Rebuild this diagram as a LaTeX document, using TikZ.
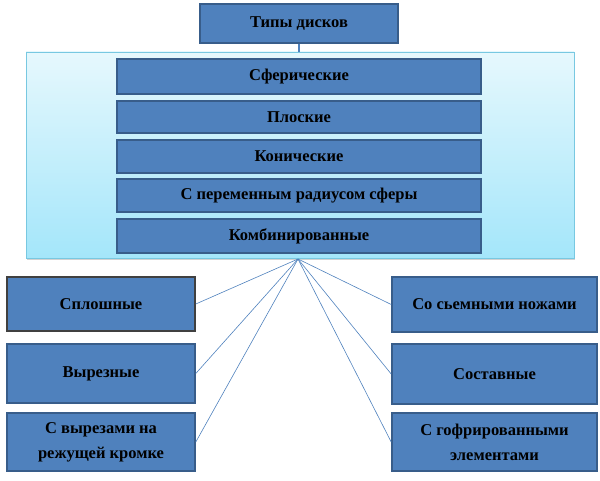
\documentclass[tikz,border=0pt]{standalone}
\usepackage{fontspec}
\setmainfont{Liberation Serif}
\usetikzlibrary{shadows}
\definecolor{diskblue}{RGB}{79,129,189}
\definecolor{diskedge}{RGB}{56,93,138}
\definecolor{paneltop}{RGB}{230,248,253}
\definecolor{panelbot}{RGB}{164,230,250}
\definecolor{paneledge}{RGB}{120,200,225}

\begin{document}
\begin{tikzpicture}[x=1pt,y=-1pt,thick,
    kind/.style={rectangle,draw=diskedge,line width=1.6pt,fill=diskblue,inner sep=0pt,
        font=\fontsize{16.5}{25}\selectfont\bfseries,align=center},
    panel/.style={rectangle,draw=paneledge,line width=0.6pt,top color=paneltop,bottom color=panelbot,
        inner sep=0pt,drop shadow={shadow xshift=1pt,shadow yshift=-2.5pt,fill=gray!70}},
    fan/.style={draw=diskblue,line width=0.6pt}]

            \useasboundingbox (0,0) rectangle (600,481);

            \node[kind, minimum width=198, minimum height=39] (top) at (299,23.5) {Типы дисков};
            \node[panel, minimum width=548, minimum height=206] (panel) at (300,155) {};

            \node[kind, minimum width=364, minimum height=35] (sfer) at (299,76.5) {Сферические};
            \node[kind, minimum width=364, minimum height=32] (plos) at (299,117) {Плоские};
            \node[kind, minimum width=364, minimum height=33] (kon) at (299,156.5) {Конические};
            \node[kind, minimum width=364, minimum height=33] (perem) at (299,195.5) {С переменным радиусом сферы};
            \node[kind, minimum width=364, minimum height=34] (komb) at (299,236) {Комбинированные};

            \node[kind, draw=black!75, minimum width=188, minimum height=54] (splosh) at (101,304) {Сплошные};
            \node[kind, minimum width=188, minimum height=59] (vyrez) at (101,373.5) {Вырезные};
            \node[kind, minimum width=188, minimum height=58] (kromka) at (101,442) {С вырезами на\\режущей кромке};

            \node[kind, minimum width=205, minimum height=55] (nozhi) at (494.5,304.5) {Со сьемными ножами};
            \node[kind, minimum width=205, minimum height=60] (sostav) at (494.5,374) {Составные};
            \node[kind, minimum width=205, minimum height=58] (gofr) at (494.5,442) {С гофрированными\\элементами};

            \coordinate (hub) at (298,259);

            \draw[draw=diskblue, line width=2pt] (top.south) -- (top.south |- panel.north);
            \draw[fan] (hub) -- (splosh.east);
            \draw[fan] (hub) -- (vyrez.east);
            \draw[fan] (hub) -- (kromka.east);
            \draw[fan] (hub) -- (nozhi.west);
            \draw[fan] (hub) -- (sostav.west);
            \draw[fan] (hub) -- (gofr.west);

            ;
        \end{tikzpicture}
\end{document}
